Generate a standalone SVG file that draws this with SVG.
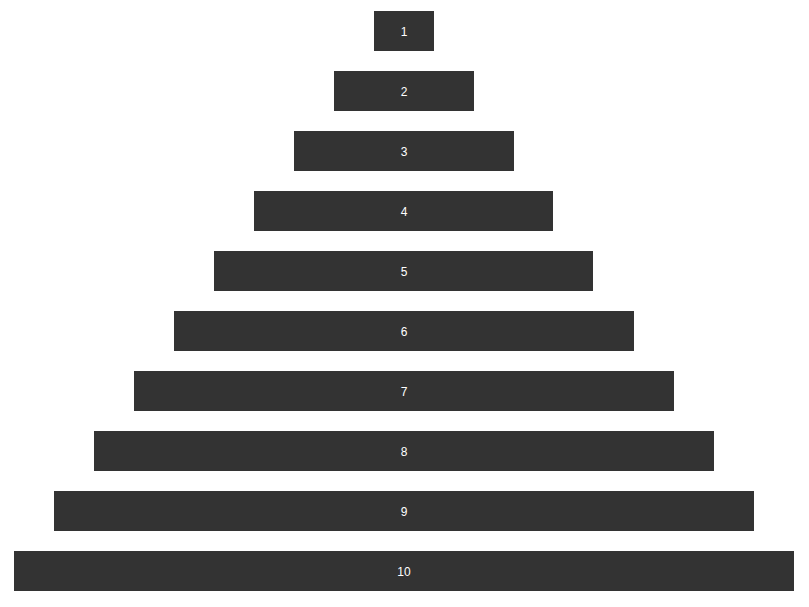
<svg xmlns="http://www.w3.org/2000/svg" width="809" height="607" viewBox="0 0 809 607">
<style>
.bar{fill:#333333}
.lbl{fill:#ffffff;font-family:"Liberation Sans",Arial,sans-serif;font-size:12px;text-anchor:middle;dominant-baseline:central}
</style>
<rect width="809" height="607" fill="#ffffff"/>
<g id="node1"><rect class="bar" x="374" y="11" width="60" height="40"/><text class="lbl" x="404" y="32">1</text></g>
<g id="node2"><rect class="bar" x="334" y="71" width="140" height="40"/><text class="lbl" x="404" y="92">2</text></g>
<g id="node3"><rect class="bar" x="294" y="131" width="220" height="40"/><text class="lbl" x="404" y="152">3</text></g>
<g id="node4"><rect class="bar" x="254" y="191" width="299" height="40"/><text class="lbl" x="404" y="212">4</text></g>
<g id="node5"><rect class="bar" x="214" y="251" width="379" height="40"/><text class="lbl" x="404" y="272">5</text></g>
<g id="node6"><rect class="bar" x="174" y="311" width="460" height="40"/><text class="lbl" x="404" y="332">6</text></g>
<g id="node7"><rect class="bar" x="134" y="371" width="540" height="40"/><text class="lbl" x="404" y="392">7</text></g>
<g id="node8"><rect class="bar" x="94" y="431" width="620" height="40"/><text class="lbl" x="404" y="452">8</text></g>
<g id="node9"><rect class="bar" x="54" y="491" width="700" height="40"/><text class="lbl" x="404" y="512">9</text></g>
<g id="node10"><rect class="bar" x="14" y="551" width="780" height="40"/><text class="lbl" x="404" y="572">10</text></g>
<g id="connectors"></g>
</svg>
